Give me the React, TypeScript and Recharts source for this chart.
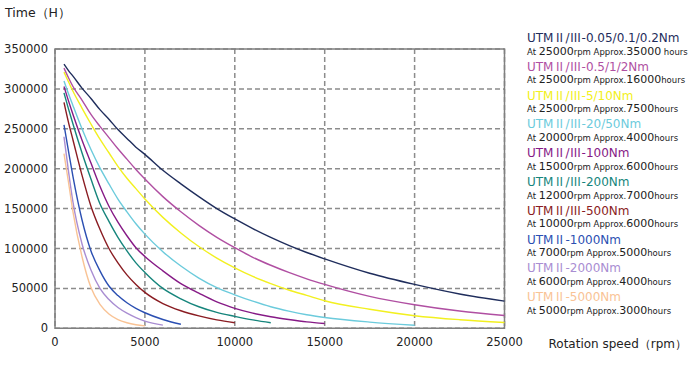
import { LineChart, Line, XAxis, YAxis, CartesianGrid, ReferenceArea } from 'recharts';

// rotation speed sample points (rpm)
const rpm = [500, 750, 1000, 1500, 2000, 2500, 3000, 3500, 4000, 4500, 5000, 6000, 7000, 8000, 9000, 10000, 11000, 12000, 13000, 14000, 15000, 17500, 20000, 22500, 25000];

// life (hours), null where a curve has ended
const life005 = [331000, 323000, 316000, 301000, 288000, 274000, 262000, 249000, 238000, 227000, 218000, 198000, 181000, 165000, 150000, 137000, 125000, 114000, 104000, 95000, 87000, 69000, 55000, 43000, 34000];
const life05 = [326000, 314000, 303000, 286000, 268000, 253000, 239000, 225000, 212000, 199000, 187000, 165000, 146000, 129000, 114000, 101000, 89000, 79000, 70000, 62000, 55000, 40000, 29500, 21600, 16000];
const life5 = [321000, 309000, 297000, 276000, 256000, 237000, 220000, 203000, 188000, 175000, 162000, 139000, 119500, 102500, 88000, 75700, 65000, 56000, 48000, 41300, 34500, 23800, 15800, 10800, 7300];
const life20 = [310000, 294000, 279000, 250000, 224000, 201000, 181000, 162000, 146000, 131000, 118000, 96000, 78000, 63000, 51000, 42000, 34000, 27000, 21500, 17000, 13600, 7800, 3800, null, null];
const life100 = [303000, 285000, 268000, 236000, 207000, 178000, 153000, 133000, 116000, 101000, 90000, 72000, 56000, 44000, 33000, 25000, 19000, 14500, 11000, 8000, 6000, null, null, null, null];
const life200 = [295000, 275000, 256000, 220000, 187000, 156000, 134000, 114000, 97000, 82000, 70000, 50000, 37000, 27000, 20000, 15000, 10500, 7000, null, null, null, null, null, null, null];
const life500 = [283000, 258000, 236000, 192000, 153000, 124000, 100000, 82000, 67000, 55000, 45000, 31000, 22000, 15500, 10500, 7000, null, null, null, null, null, null, null, null, null];
const life1000 = [255000, 222000, 190000, 136000, 97000, 72000, 53000, 41000, 32000, 25000, 19500, 11000, 5000, null, null, null, null, null, null, null, null, null, null, null, null];
const life2000 = [240000, 197000, 158000, 106000, 73000, 50000, 36000, 26000, 19000, 13500, 9000, 4000, null, null, null, null, null, null, null, null, null, null, null, null, null];
const life5000 = [219000, 183000, 146000, 90000, 51000, 30000, 18000, 11000, 7000, 4500, 3000, null, null, null, null, null, null, null, null, null, null, null, null, null, null];

const allLife = [life005, life05, life5, life20, life100, life200, life500, life1000, life2000, life5000];

const names = [
  'UTMⅡ/Ⅲ-0.05/0.1/0.2Nm',
  'UTMⅡ/Ⅲ-0.5/1/2Nm',
  'UTMⅡ/Ⅲ-5/10Nm',
  'UTMⅡ/Ⅲ-20/50Nm',
  'UTMⅡ/Ⅲ-100Nm',
  'UTMⅡ/Ⅲ-200Nm',
  'UTMⅡ/Ⅲ-500Nm',
  'UTMⅡ-1000Nm',
  'UTMⅡ-2000Nm',
  'UTMⅡ-5000Nm',
];
const noteSpeeds = ['25000', '25000', '25000', '20000', '15000', '12000', '10000', '7000', '6000', '5000'];
const noteHours = ['35000', '16000', '7500', '4000', '6000', '7000', '6000', '5000', '4000', '3000'];
const colors = ['#1f2d5c', '#b04fa2', '#f2f020', '#6ccbdc', '#861a86', '#16857c', '#8a1c22', '#2b4fb2', '#a98dd2', '#f9c395'];

const xTicks = [0, 5000, 10000, 15000, 20000, 25000];
const yTicks = [0, 50000, 100000, 150000, 200000, 250000, 300000, 350000];

const data = rpm.map((r, i) => {
  const row: Record<string, number | null> = { rpm: r };
  allLife.forEach((arr, k) => {
    row['s' + k] = arr[i];
  });
  return row;
});

const font = '"DejaVu Sans", Verdana, sans-serif';
const cjk = '"Noto Sans CJK JP", sans-serif';
const tickStyle = { fontSize: 11.5, fill: '#222', fontFamily: font };

// roman numerals look full width in the original, so give them the CJK font
function Title({ text }: { text: string }) {
  return (
    <>
      {text.split(/([ⅡⅢ])/).map((p, i) =>
        p === 'Ⅱ' || p === 'Ⅲ' ? (
          <span key={i} style={{ fontFamily: cjk }}>{p}</span>
        ) : (
          <span key={i}>{p}</span>
        )
      )}
    </>
  );
}

export default function App() {
  return (
    <div style={{ position: 'absolute', left: 0, top: 0, width: 688, height: 365, background: '#fff', fontFamily: font }}>
      <LineChart width={688} height={365} data={data} margin={{ top: 49, right: 183.5, bottom: 6.7, left: 0 }}>
        <CartesianGrid stroke="#8c8c8c" strokeWidth={1.5} strokeDasharray="5 3" />
        <XAxis
          type="number"
          dataKey="rpm"
          domain={[0, 25000]}
          ticks={xTicks}
          tickLine={false}
          axisLine={false}
          tickSize={0}
          tickMargin={10}
          height={30}
          tick={tickStyle}
          label={{ value: 'Rotation speed（rpm）', position: 'right', offset: 44, style: { fontSize: 12, fill: '#222', fontFamily: font, textAnchor: 'start' } }}
        />
        <YAxis
          type="number"
          domain={[0, 350000]}
          ticks={yTicks}
          tickLine={false}
          axisLine={false}
          tickSize={0}
          tickMargin={7}
          width={55}
          tick={tickStyle}
        />
        <ReferenceArea x1={0} x2={25000} y1={0} y2={350000} fill="none" fillOpacity={0} stroke="#808080" strokeWidth={1.5} ifOverflow="visible" />
        {allLife.map((_, k) => (
          <Line
            key={k}
            type="monotone"
            dataKey={'s' + k}
            stroke={colors[k]}
            strokeWidth={1.4}
            dot={false}
            isAnimationActive={false}
          />
        ))}
      </LineChart>
      <div style={{ position: 'absolute', left: 5, top: 5, fontSize: 12.5, color: '#222', lineHeight: '16px', whiteSpace: 'nowrap' }}>Time（H）</div>
      {names.map((n, k) => (
        <div key={k}>
          <div style={{ position: 'absolute', left: 527, top: 29 + k * 28.8, fontSize: 12, lineHeight: '15px', color: colors[k], whiteSpace: 'nowrap' }}>
            <Title text={n} />
          </div>
          <div style={{ position: 'absolute', left: 527, top: 42.5 + k * 28.8, lineHeight: '13px', color: '#222', whiteSpace: 'nowrap' }}>
            <span style={{ fontSize: 8.5 }}>At </span>
            <span style={{ fontSize: 11 }}>{noteSpeeds[k]}</span>
            <span style={{ fontSize: 8.5 }}>rpm Approx.</span>
            <span style={{ fontSize: 11 }}>{noteHours[k]}</span>
            <span style={{ fontSize: 8.5 }}>{k === 0 ? ' hours' : 'hours'}</span>
          </div>
        </div>
      ))}
    </div>
  );
}
